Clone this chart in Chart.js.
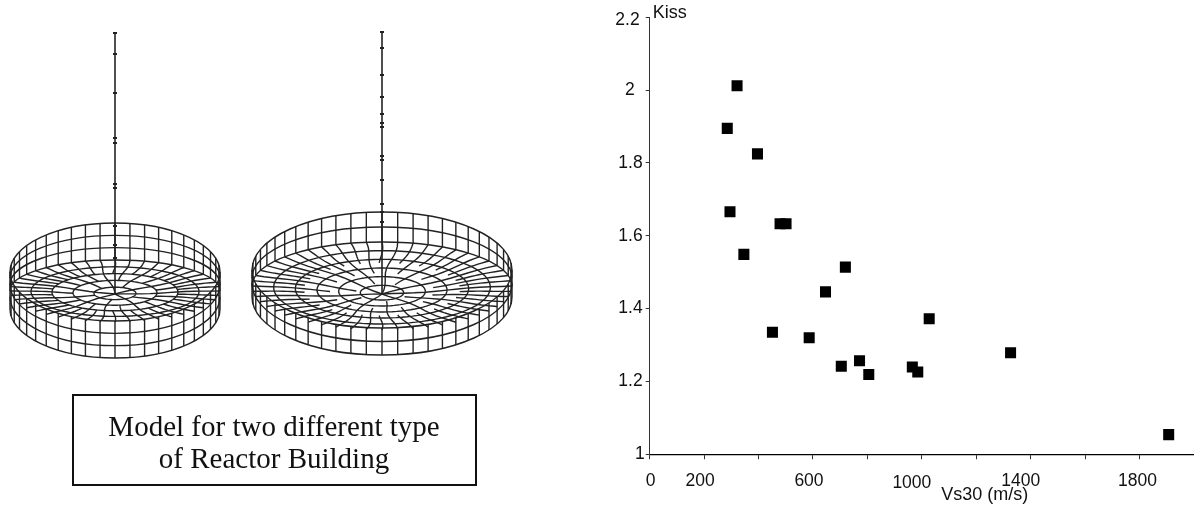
<!DOCTYPE html>
<html>
<head>
<meta charset="utf-8">
<title>Kiss vs Vs30</title>
<script src="https://cdn.jsdelivr.net/npm/chart.js@4"></script>
<style>
    body { margin: 0; background: #fff; }
    canvas { display: block; }
</style>
</head>
<body>
<canvas id="kissChart" width="1194" height="506"></canvas>
<script>
// Values
const vs30Values = [321, 285, 396, 295, 346, 479, 501, 719, 646, 451, 586, 704, 771, 805, 965, 985, 1027, 1326, 1907];
const kissValues = [2.012, 1.895, 1.825, 1.666, 1.549, 1.633, 1.633, 1.514, 1.446, 1.335, 1.320, 1.242, 1.257, 1.219, 1.240, 1.226, 1.372, 1.279, 1.054];
const xTickLabels = [0, 200, 600, 1000, 1400, 1800];
const captionLines = ['Model for two different type', 'of Reactor Building'];
const xAxisName = 'Vs30 (m/s)';
const yAxisName = 'Kiss';

// Hand placed tick labels in the original figure: [dx, dy] from the default spot
const labelShifts = {
    x: { '0': [1, 0], '200': [-4, 0], '600': [-4, 0], '1000': [-10, 2.5], '1400': [-10, 0], '1800': [-2, 0] },
    y: { '2.2': [-3, 2.5], '2': [-8, 0], '1': [2, 0] }
};

const FONT_FAMILY = '"Liberation Sans", Arial, sans-serif';
const INK = '#222';

// Wireframe of one reactor building, drawn on the canvas behind the chart.
// Only the inner face of the back wall, the floor and the outer face of the
// front wall are visible, as in a hidden line plot.
function drawDrum(ctx, d) {
    const arc = (cy, ry, from) => {
        ctx.beginPath();
        ctx.ellipse(d.cx, cy, d.rx, ry, 0, from, from + Math.PI);
        ctx.stroke();
    };
    const polyline = pts => {
        ctx.beginPath();
        pts.forEach((p, i) => i === 0 ? ctx.moveTo(p[0], p[1]) : ctx.lineTo(p[0], p[1]));
        ctx.stroke();
    };

    // wall bands
    for (let k = 0; k <= d.bands; k++) {
        const t = k / d.bands;
        arc(d.topCy + (d.floorCy - d.topCy) * t, d.ry + (d.floorRy - d.ry) * t, Math.PI);
        arc(d.topCy + d.wall * t, d.ry, 0);
    }

    // wall lines
    for (let i = 0; i < d.divisions; i++) {
        const a = i / d.divisions * Math.PI * 2;
        const s = Math.sin(a);
        const x = d.cx + d.rx * Math.cos(a);
        const yTop = d.topCy + d.ry * s;
        const yEnd = s < 0 ? d.floorCy + d.floorRy * s : yTop + d.wall;
        polyline([[x, yTop], [x, yEnd]]);
    }

    // floor: slightly uneven rings and spokes, like the meshed plate
    const floorPoint = (a, r) => {
        const bend = 0.1 * Math.sin(3 * a + 6 * r) * (1 - r);
        return [
            d.cx + d.rx * r * Math.cos(a + bend),
            d.floorCy + d.floorRy * r * Math.sin(a + bend) + d.floorShift * (1 - r)
        ];
    };
    for (let k = 1; k < d.rings; k++) {
        const pts = [];
        for (let i = 0; i <= 96; i++) {
            pts.push(floorPoint(i / 96 * Math.PI * 2, k / d.rings));
        }
        polyline(pts);
    }
    for (let i = 0; i < d.divisions; i++) {
        const a = i / d.divisions * Math.PI * 2;
        // fewer spokes reach the middle
        let inner = 0.2;
        if (i % 2) inner = 0.6;
        else if (i % 4) inner = 0.4;
        if (i % 8 === 0) inner = 0;
        const pts = [];
        for (let s = 0; s <= 12; s++) {
            pts.push(floorPoint(a, inner + (1 - inner) * s / 12));
        }
        polyline(pts);
    }

    // mast with its nodes
    ctx.lineWidth = 1.6;
    polyline([[d.cx, d.mastTop], [d.cx, d.floorCy + d.floorShift]]);
    ctx.fillStyle = INK;
    d.nodes.forEach(y => ctx.fillRect(d.cx - 2, y - 1, 4, 2));
    ctx.lineWidth = 1.4;
}

const figurePlugin = {
    id: 'figure',
    beforeDraw(chart) {
        const ctx = chart.ctx;
        ctx.save();
        ctx.strokeStyle = INK;
        ctx.lineWidth = 1.4;
        drawDrum(ctx, {
            cx: 115, rx: 105, topCy: 272, ry: 49, wall: 37, bands: 3,
            floorCy: 291, floorRy: 31, floorShift: 3, divisions: 44, rings: 5,
            mastTop: 33, nodes: [33, 54, 93, 138, 143, 184, 188, 226, 245, 258]
        });
        drawDrum(ctx, {
            cx: 382, rx: 130, topCy: 270, ry: 58, wall: 27, bands: 2,
            floorCy: 286, floorRy: 44, floorShift: 8, divisions: 52, rings: 6,
            mastTop: 32, nodes: [32, 48, 75, 97, 114, 123, 127, 156, 160, 180, 204, 212, 222]
        });

        // caption box
        ctx.lineWidth = 2;
        ctx.strokeStyle = '#111';
        ctx.strokeRect(73, 395, 403, 90);
        ctx.fillStyle = '#111';
        ctx.font = '29px "Liberation Serif", "Times New Roman", serif';
        ctx.textAlign = 'center';
        ctx.textBaseline = 'middle';
        ctx.fillText(captionLines[0], 274, 428);
        ctx.fillText(captionLines[1], 274, 460);
        ctx.restore();
    },
    afterDraw(chart) {
        const ctx = chart.ctx;
        const x = chart.scales.x;
        const y = chart.scales.y;
        ctx.save();
        ctx.fillStyle = '#111';
        ctx.font = '18px ' + FONT_FAMILY;
        ctx.textBaseline = 'middle';
        ctx.textAlign = 'left';
        ctx.fillText(yAxisName, x.left + 3, y.top - 4);
        ctx.fillText(xAxisName, x.getPixelForValue(1071), y.bottom + 40.5);
        ctx.restore();
    },
    // nudge the library's own tick labels to where the original has them
    afterUpdate(chart) {
        ['x', 'y'].forEach(id => {
            chart.scales[id].getLabelItems().forEach(item => {
                const shift = labelShifts[id][item.label];
                if (!shift) return;
                item.options.translation[0] += shift[0];
                item.options.translation[1] += shift[1];
            });
        });
    }
};

new Chart(document.getElementById('kissChart').getContext('2d'), {
    type: 'scatter',
    data: {
        datasets: [{
            label: yAxisName,
            data: vs30Values.map((v, i) => ({ x: v, y: kissValues[i] })),
            pointStyle: 'rect',
            pointRadius: 7.8,
            pointBackgroundColor: '#000',
            pointBorderWidth: 0
        }]
    },
    options: {
        responsive: false,
        animation: false,
        layout: {
            autoPadding: false,
            padding: { left: 600, top: 17.3, right: 0, bottom: 0 }
        },
        plugins: {
            legend: { display: false },
            title: { display: false },
            tooltip: { enabled: false }
        },
        scales: {
            x: {
                type: 'linear',
                min: 0,
                max: 2000,
                afterFit(scale) {
                    scale.height = 51.7;
                    scale.paddingLeft = 0;
                    scale.paddingRight = 0;
                },
                border: { color: '#000', width: 1.2 },
                grid: { drawOnChartArea: false, tickLength: 5, tickColor: '#333' },
                ticks: {
                    stepSize: 200,
                    autoSkip: false,
                    maxRotation: 0,
                    padding: 11,
                    color: '#111',
                    font: { family: FONT_FAMILY, size: 17.5 },
                    callback: v => xTickLabels.includes(v) ? String(v) : ''
                }
            },
            y: {
                type: 'linear',
                min: 1,
                max: 2.2,
                afterFit(scale) {
                    scale.width = 49.7;
                    scale.paddingTop = 0;
                    scale.paddingBottom = 0;
                },
                border: { color: '#333', width: 1 },
                grid: { drawOnChartArea: false, tickLength: 4, tickColor: '#333' },
                ticks: {
                    stepSize: 0.2,
                    padding: 3,
                    color: '#111',
                    font: { family: FONT_FAMILY, size: 17.5 },
                    callback: v => String(Math.round(v * 10) / 10)
                }
            }
        }
    },
    plugins: [figurePlugin]
});
</script>
</body>
</html>
